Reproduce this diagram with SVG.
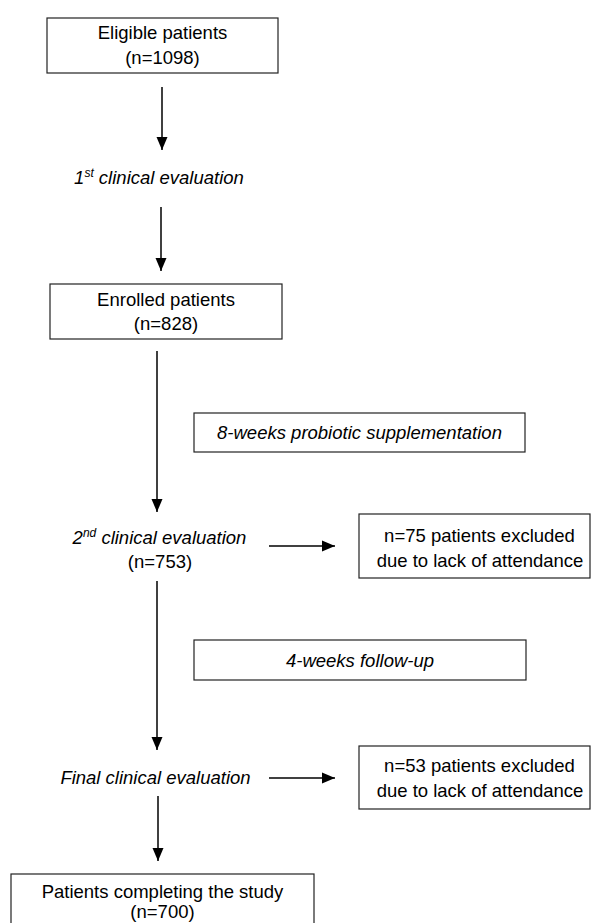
<svg xmlns="http://www.w3.org/2000/svg" width="591" height="923" viewBox="0 0 591 923">
<style>
.box{fill:#fff;stroke:#222;stroke-width:1.2}
.t{font-family:"Liberation Sans",Arial,sans-serif;font-size:18.5px;fill:#000;text-anchor:middle}
.i{font-style:italic}
.sup{font-size:12px}
.c{stroke:#000;stroke-width:1.5;fill:none;marker-end:url(#ah)}
</style>
<defs>
<marker id="ah" markerUnits="userSpaceOnUse" markerWidth="13" markerHeight="12" refX="13" refY="6" orient="auto">
<path d="M0,0.5 L13,6 L0,11.5 z" fill="#000"/>
</marker>
</defs>
<rect width="591" height="923" fill="#fff"/>
<g id="connectors">
<line class="c" x1="162" y1="87" x2="162" y2="150"/>
<line class="c" x1="161" y1="207" x2="161" y2="271"/>
<line class="c" x1="157" y1="351" x2="157" y2="512"/>
<line class="c" x1="269" y1="546" x2="335" y2="546"/>
<line class="c" x1="157" y1="581" x2="157" y2="750"/>
<line class="c" x1="269" y1="778" x2="335" y2="778"/>
<line class="c" x1="158" y1="796" x2="158" y2="861"/>
</g>
<g id="eligible">
<rect class="box" x="47" y="18" width="231" height="55"/>
<text class="t" x="162.5" y="38.5">Eligible patients</text>
<text class="t" x="162.5" y="63.5">(n=1098)</text>
</g>
<g id="eval1">
<text class="t i" x="159" y="183.5">1<tspan class="sup" dy="-7">st</tspan><tspan dy="7"> clinical evaluation</tspan></text>
</g>
<g id="enrolled">
<rect class="box" x="50" y="284" width="232" height="55"/>
<text class="t" x="166" y="305.5">Enrolled patients</text>
<text class="t" x="166" y="329.5">(n=828)</text>
</g>
<g id="supplementation">
<rect class="box" x="194" y="413" width="331" height="39"/>
<text class="t i" x="359.5" y="438.5">8-weeks probiotic supplementation</text>
</g>
<g id="eval2">
<text class="t i" x="159.5" y="543.5">2<tspan class="sup" dy="-7">nd</tspan><tspan dy="7"> clinical evaluation</tspan></text>
<text class="t" x="160" y="567.5">(n=753)</text>
</g>
<g id="excluded75">
<rect class="box" x="359" y="514" width="231" height="64"/>
<text class="t" x="479.5" y="541.5">n=75 patients excluded</text>
<text class="t" x="480" y="566.5">due to lack of attendance</text>
</g>
<g id="followup">
<rect class="box" x="194" y="640" width="332" height="40"/>
<text class="t i" x="360" y="666.5">4-weeks follow-up</text>
</g>
<g id="evalfinal">
<text class="t i" x="155.5" y="783.5">Final clinical evaluation</text>
</g>
<g id="excluded53">
<rect class="box" x="359" y="746" width="231" height="63"/>
<text class="t" x="479.5" y="771.5">n=53 patients excluded</text>
<text class="t" x="480" y="796.5">due to lack of attendance</text>
</g>
<g id="completing">
<rect class="box" x="11" y="874" width="303" height="60"/>
<text class="t" x="162.5" y="898">Patients completing the study</text>
<text class="t" x="162.5" y="918">(n=700)</text>
</g>
</svg>
